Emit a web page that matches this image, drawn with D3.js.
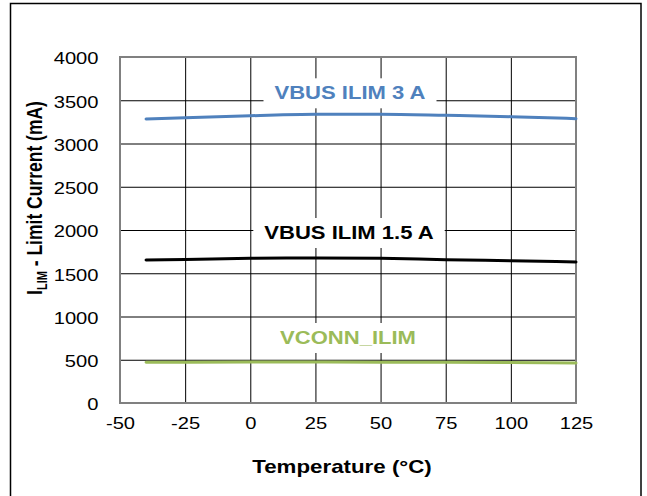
<!DOCTYPE html>
<html>
<head>
<meta charset="utf-8">
<script src="https://cdn.jsdelivr.net/npm/d3@7"></script>
<style>
  html, body { margin: 0; padding: 0; background: #fff; }
  svg { display: block; font-family: "Liberation Sans", Arial, sans-serif; }
</style>
</head>
<body>
<svg id="chart" width="647" height="496"></svg>
<script>
// Temperature sweep (°C)
const temperatures = [-40, -25, 0, 25, 50, 75, 100, 125];
// Current limit (mA) per series
const vbus3A   = [3283, 3299, 3321, 3338, 3338, 3326, 3310, 3287];
const vbus15A  = [1653, 1660, 1672, 1676, 1672, 1657, 1645, 1630];
const vconnLim = [470, 472, 473, 473, 472, 470, 467, 463];
const seriesNames = ["VBUS ILIM 3 A", "VBUS ILIM 1.5 A", "VCONN_ILIM"];
// Axis ticks
const xTicks = [-50, -25, 0, 25, 50, 75, 100, 125];
const yTicks = [0, 500, 1000, 1500, 2000, 2500, 3000, 3500, 4000];

const colors = ["#4F81BD", "#000000", "#9BBB59"];
const seriesValues = [vbus3A, vbus15A, vconnLim];
const SX = 1.26; // horizontal text stretch

const svg = d3.select("#chart");
const plotL = 120, plotR = 576, plotT = 57, plotB = 403;

const x = d3.scaleLinear().domain([-50, 125]).range([plotL, plotR]);
const y = d3.scaleLinear().domain([0, 4000]).range([plotB, plotT]);

// outer frame
svg.append("rect")
  .attr("x", 10.5).attr("y", 3.5).attr("width", 630.5).attr("height", 520)
  .attr("fill", "none").attr("stroke", "#000").attr("stroke-width", 1.5);

// gridlines
const gx = svg.append("g").attr("transform", `translate(0,${plotB})`)
  .call(d3.axisBottom(x).tickValues(xTicks).tickSizeInner(-(plotB - plotT)).tickSizeOuter(0).tickFormat(d => d));
const gy = svg.append("g").attr("transform", `translate(${plotL},0)`)
  .call(d3.axisLeft(y).tickValues(yTicks).tickSizeInner(-(plotR - plotL)).tickSizeOuter(0).tickFormat(d => d));
[gx, gy].forEach(g => {
  g.select(".domain").remove();
  g.selectAll(".tick line").attr("stroke", "#000").attr("stroke-width", 1);
  g.selectAll(".tick text")
    .attr("fill", "#000")
    .style("font-size", "16px")
    .style("font-family", "'Liberation Sans', Arial, sans-serif");
});
gx.selectAll(".tick text").attr("y", 0).attr("dy", 0)
  .attr("transform", `translate(0,25.5) scale(${SX},1)`);
gy.selectAll(".tick text").attr("x", 0).attr("dy", "0.36em")
  .attr("transform", `translate(-21.5,1) scale(${SX},1)`);

// plot border
svg.append("rect")
  .attr("x", plotL).attr("y", plotT).attr("width", plotR - plotL).attr("height", plotB - plotT)
  .attr("fill", "none").attr("stroke", "#808080").attr("stroke-width", 2);

// series curves
const line = d3.line()
  .x((d, i) => x(temperatures[i]))
  .y(d => y(d))
  .curve(d3.curveMonotoneX);
seriesValues.forEach((vals, k) => {
  svg.append("path")
    .datum(vals)
    .attr("d", line)
    .attr("fill", "none")
    .attr("stroke", colors[k])
    .attr("stroke-width", 3)
    .attr("stroke-linecap", "round");
});

// series labels on white boxes
const labelPos = [[350, 99.3], [349, 239], [348, 344]];
seriesNames.forEach((name, k) => {
  const g = svg.append("g");
  const box = g.append("rect").attr("fill", "#fff");
  const t = g.append("text")
    .attr("transform", `translate(${labelPos[k][0]},${labelPos[k][1]}) scale(${SX},1)`)
    .attr("text-anchor", "middle")
    .attr("font-weight", "bold")
    .style("font-size", "17.5px")
    .attr("fill", colors[k])
    .text(name);
  const bb = t.node().getBBox();
  const w = bb.width * SX;
  box.attr("x", labelPos[k][0] - w / 2 - 11)
     .attr("y", labelPos[k][1] - 21)
     .attr("width", w + 22)
     .attr("height", 30);
});

// axis titles
svg.append("text")
  .attr("transform", `translate(342,473) scale(1.24,1)`)
  .attr("text-anchor", "middle")
  .attr("font-weight", "bold")
  .style("font-size", "18px")
  .text("Temperature (°C)");

const yt = svg.append("text")
  .attr("transform", `translate(42,198) scale(${SX},1) rotate(-90)`)
  .attr("text-anchor", "middle")
  .attr("font-weight", "bold")
  .style("font-size", "17.5px");
yt.append("tspan").text("I");
yt.append("tspan").attr("dy", 4).style("font-size", "11px").text("LIM");
yt.append("tspan").attr("dy", -4).text(" - Limit Current (mA)");
</script>
</body>
</html>
